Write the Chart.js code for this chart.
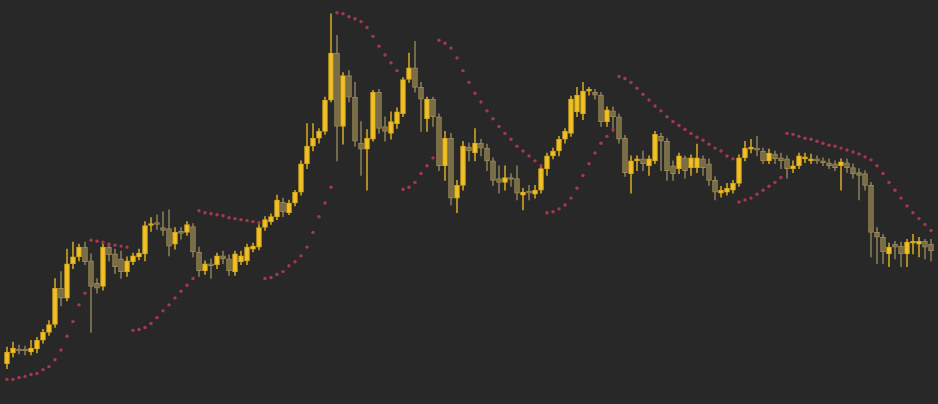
<!DOCTYPE html>
<html>
<head>
<meta charset="utf-8">
<script src="https://cdn.jsdelivr.net/npm/chart.js@4/dist/chart.umd.min.js"></script>
<style>
  html, body { margin: 0; padding: 0; background: #282828; }
  #wrap { width: 938px; height: 404px; position: relative; }
</style>
</head>
<body>
<div id="wrap"><canvas id="myChart"></canvas></div>
<script>
// candle prices (arbitrary units), one entry per bar
let opens = [33, 44, 48, 47, 45, 48, 57, 65, 73, 110, 100, 135, 142, 152, 138, 115, 112, 152, 145, 140,
  127, 137, 142, 145, 174, 177, 172, 171, 155, 168, 167, 173, 147, 128, 135, 134, 143, 140, 127, 137,
  138, 150, 152, 172, 178, 183, 198, 187, 197, 208, 237, 255, 263, 270, 302, 350, 275, 327, 305, 258,
  252, 262, 310, 275, 268, 278, 288, 323, 335, 315, 283, 303, 285, 235, 263, 202, 215, 254, 248, 258,
  253, 240, 222, 218, 223, 222, 205, 209, 206, 210, 232, 245, 250, 262, 268, 290, 288, 311, 310, 307,
  280, 291, 285, 263, 227, 240, 242, 235, 240, 265, 260, 235, 232, 243, 233, 233, 242, 237, 220, 207,
  208, 210, 217, 243, 252, 253, 250, 240, 247, 243, 242, 232, 235, 242, 242, 241, 240, 238, 237, 235,
  238, 233, 228, 227, 215, 167, 162, 145, 155, 153, 145, 158, 155, 158, 155];
let closes = [45, 49, 46, 46, 49, 57, 65, 73, 110, 100, 135, 142, 152, 137, 112, 110, 152, 144, 132, 127,
  138, 143, 146, 174, 176, 175, 169, 153, 167, 166, 175, 147, 128, 135, 133, 143, 140, 128, 145, 143,
  152, 153, 172, 180, 183, 200, 188, 197, 208, 237, 255, 263, 270, 302, 350, 275, 327, 305, 260, 252,
  263, 310, 273, 270, 280, 290, 323, 335, 315, 303, 303, 285, 235, 263, 202, 215, 255, 250, 258, 253,
  240, 220, 218, 223, 221, 207, 208, 207, 210, 232, 245, 250, 262, 270, 303, 307, 311, 312, 307, 280,
  292, 285, 262, 228, 240, 242, 237, 242, 267, 260, 230, 227, 245, 230, 243, 243, 233, 220, 208, 210,
  212, 217, 243, 253, 253, 251, 240, 248, 242, 240, 232, 235, 245, 244, 242, 240, 238, 235, 233, 239,
  233, 227, 225, 215, 167, 162, 147, 152, 152, 145, 157, 158, 158, 152, 148];
let highs = [50, 55, 52, 51, 57, 60, 68, 77, 120, 127, 150, 157, 155, 157, 145, 120, 155, 156, 150, 148,
  142, 146, 150, 178, 182, 185, 188, 190, 172, 172, 178, 176, 152, 138, 140, 146, 148, 144, 148, 148,
  155, 156, 175, 183, 186, 205, 202, 200, 210, 240, 278, 278, 273, 305, 390, 368, 330, 332, 320, 280,
  272, 312, 313, 285, 290, 294, 325, 350, 362, 320, 305, 305, 288, 270, 268, 220, 260, 258, 273, 262,
  257, 243, 235, 235, 227, 235, 212, 215, 215, 235, 248, 253, 265, 273, 306, 315, 320, 315, 313, 310,
  295, 295, 288, 266, 245, 245, 250, 245, 270, 268, 263, 240, 248, 245, 246, 257, 245, 242, 224, 214,
  217, 220, 246, 260, 262, 265, 253, 252, 250, 248, 245, 240, 248, 248, 247, 245, 243, 242, 240, 242,
  242, 237, 232, 230, 218, 172, 165, 156, 158, 157, 160, 165, 162, 160, 160];
let lows = [28, 40, 43, 42, 42, 44, 54, 62, 70, 92, 97, 130, 138, 134, 65, 105, 108, 138, 125, 120,
  122, 134, 139, 138, 168, 170, 164, 143, 150, 160, 164, 142, 122, 124, 120, 130, 135, 123, 123, 134,
  134, 147, 149, 169, 175, 180, 183, 185, 194, 205, 232, 250, 258, 267, 300, 240, 257, 300, 255, 225,
  210, 260, 268, 260, 262, 273, 285, 320, 310, 270, 270, 275, 230, 220, 195, 187, 210, 240, 240, 245,
  230, 215, 207, 210, 214, 200, 190, 200, 202, 207, 225, 242, 245, 258, 265, 285, 282, 307, 303, 275,
  275, 270, 258, 224, 207, 230, 230, 225, 237, 230, 220, 220, 227, 222, 225, 228, 225, 215, 200, 203,
  205, 207, 214, 240, 248, 245, 237, 237, 237, 232, 222, 228, 232, 238, 237, 237, 235, 232, 230, 210,
  228, 222, 200, 210, 142, 135, 135, 132, 140, 132, 132, 145, 142, 140, 138];
// parabolic SAR dots
let sar = [17, 17, 19, 20, 22, 23, 27, 30, 37, 47, 61, 76, 93, 105,
  159, 158, 157, 155, 154, 153, 152,
  67, 68, 70, 74, 80, 87, 93, 100, 107, 113, 120,
  189, 187, 186, 185, 184, 182, 181, 180, 179, 178, 177,
  120, 121, 124, 127, 133, 137, 143, 152, 167, 183, 197, 213,
  391, 390, 387, 385, 382, 376, 367, 357, 348, 340, 332,
  211, 213, 218, 227, 235, 243,
  363, 360, 355, 345, 332, 320, 309, 300, 291, 283, 275, 268, 262, 255, 250, 245, 240, 235,
  187, 188, 191, 195, 202, 212, 225, 237, 248, 258, 265, 272,
  326, 324, 320, 314, 308, 302, 296, 291, 285, 280, 276, 272, 268, 264, 261, 257, 253, 250, 245, 242,
  198, 200, 202, 206, 210, 214, 218, 223,
  268, 267, 265, 263, 262, 260, 258, 256, 255, 253, 251, 249, 247, 244, 241, 235, 227, 218, 210, 202,
  194, 187, 181, 175, 169];

let labels = opens.map((v, i) => i + 1);

let upBody = '#f1c026';
let upEdge = '#d9aa1c';
let downBody = '#7a6d46';
let downEdge = '#9b8b5a';

let ctx = document.getElementById('myChart');

makeChart();

function isUp(i) {
  return closes[i] >= opens[i];
}

function makeChart() {
  const myChart = new Chart(ctx, {
    data: {
      labels: labels,
      datasets: [
        {
          type: 'line',
          label: 'SAR',
          data: sar,
          showLine: false,
          pointRadius: 1.7,
          pointBorderWidth: 0,
          pointBackgroundColor: '#a9384f',
          order: 0
        },
        {
          type: 'bar',
          label: 'Bodies',
          data: opens.map((o, i) => [o, closes[i]]),
          backgroundColor: labels.map((l, i) => isUp(i) ? upBody : downBody),
          borderColor: labels.map((l, i) => isUp(i) ? upEdge : downEdge),
          borderWidth: 1,
          borderSkipped: false,
          barThickness: 5,
          minBarLength: 2,
          grouped: false,
          order: 1
        },
        {
          type: 'bar',
          label: 'Wicks',
          data: lows.map((lo, i) => [lo, highs[i]]),
          backgroundColor: labels.map((l, i) => isUp(i) ? '#c9a024' : '#847755'),
          barThickness: 1,
          grouped: false,
          order: 2
        }
      ]
    },
    options: {
      responsive: true,
      maintainAspectRatio: false,
      animation: false,
      layout: { padding: 0 },
      plugins: {
        legend: { display: false },
        tooltip: { enabled: false }
      },
      scales: {
        x: { display: false, offset: true, stacked: false },
        y: { display: false, min: -4, max: 400 }
      }
    }
  });
}
</script>
</body>
</html>
